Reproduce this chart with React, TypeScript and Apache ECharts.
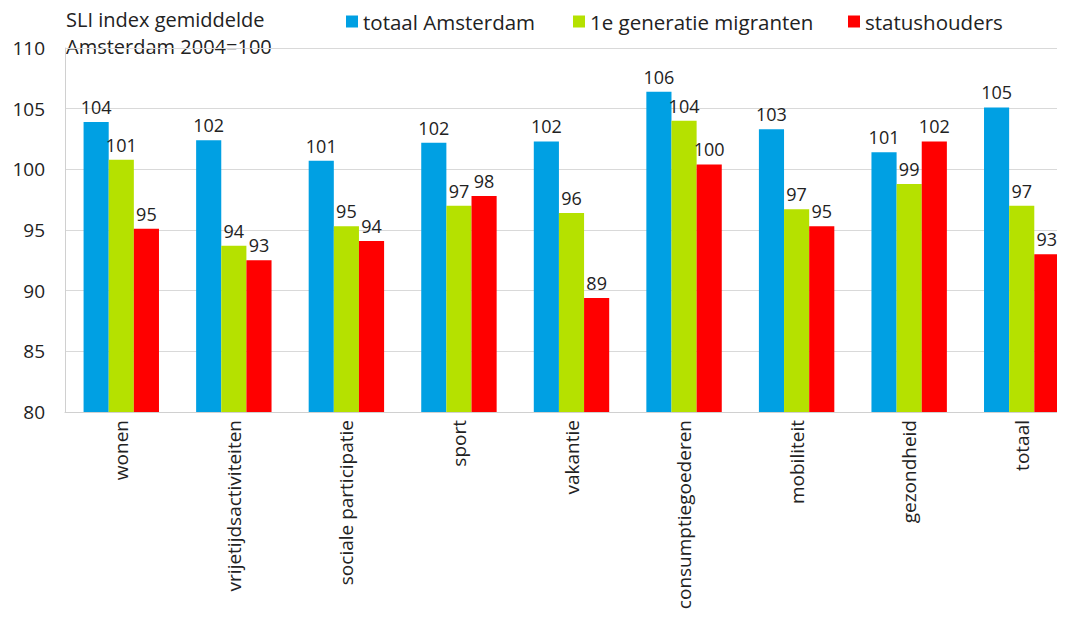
import React, { useEffect, useRef } from "react";
import * as echarts from "echarts";

const categories = ["wonen", "vrijetijdsactiviteiten", "sociale participatie", "sport", "vakantie", "consumptiegoederen", "mobiliteit", "gezondheid", "totaal"];
const seriesNames = ["totaal Amsterdam", "1e generatie migranten", "statushouders"];
const titleLines = ["SLI index gemiddelde", "Amsterdam 2004=100"];
const totaalAmsterdam = [103.9, 102.4, 100.7, 102.2, 102.3, 106.4, 103.3, 101.4, 105.1];
const eersteGeneratie = [100.8, 93.7, 95.3, 97.0, 96.4, 104.0, 96.7, 98.8, 97.0];
const statushouders = [95.1, 92.5, 94.1, 97.8, 89.4, 100.4, 95.3, 102.3, 93.0];
const colors = ["#00A0E3", "#B5E100", "#FF0000"];
const legendLefts = [333, 560, 835];

export default function App() {
  const ref = useRef<HTMLDivElement>(null);
  useEffect(() => {
    if (!ref.current) return;
    const chart = echarts.init(ref.current, undefined, { renderer: "svg" });
    const font = "'Open Sans', sans-serif";
    const data = [totaalAmsterdam, eersteGeneratie, statushouders];
    chart.setOption({
      animation: false,
      textStyle: { fontFamily: font },
      graphic: titleLines.map((t, i) => ({
        type: "text",
        x: 58,
        y: 11 + i * 27,
        style: { text: t, font: `20px ${font}`, fill: "#222", verticalAlign: "middle" },
      })),
      legend: seriesNames.map((name, i) => ({
        top: -2,
        left: legendLefts[i],
        itemWidth: 12,
        itemHeight: 12,
        icon: "rect",
        textStyle: { fontFamily: font, fontSize: 20.5, color: "#222" },
        data: [name],
      })),
      grid: { left: 57, right: 0, top: 40, bottom: 209, containLabel: false, outerBoundsMode: "none" },
      xAxis: {
        type: "category",
        data: categories,
        axisLine: { lineStyle: { color: "#d0d0d0" } },
        axisTick: { show: false },
        axisLabel: { rotate: 90, fontSize: 19, color: "#222", margin: 8, fontFamily: font, interval: 0 },
      },
      yAxis: {
        type: "value",
        min: 80,
        max: 110,
        interval: 5,
        axisLine: { show: true, lineStyle: { color: "#d0d0d0" } },
        axisTick: { show: false },
        splitLine: { lineStyle: { color: "#d9d9d9", width: 1 } },
        axisLabel: { fontSize: 19, color: "#222", margin: 20, fontFamily: font },
      },
      series: seriesNames.map((name, i) => ({
        name,
        type: "bar",
        data: data[i],
        barGap: "0%",
        barCategoryGap: "33%",
        itemStyle: { color: colors[i] },
        label: {
          show: true,
          position: "top",
          distance: 6,
          fontSize: 18,
          color: "#222",
          fontFamily: font,
          formatter: (p: any) => String(Math.round(p.value)),
        },
      })),
    });
    return () => chart.dispose();
  }, []);
  return (
    <div style={{ width: 1057, height: 613, overflow: "hidden", marginBottom: -8 }}>
      <div ref={ref} style={{ width: 1070, height: 613 }} />
    </div>
  );
}
